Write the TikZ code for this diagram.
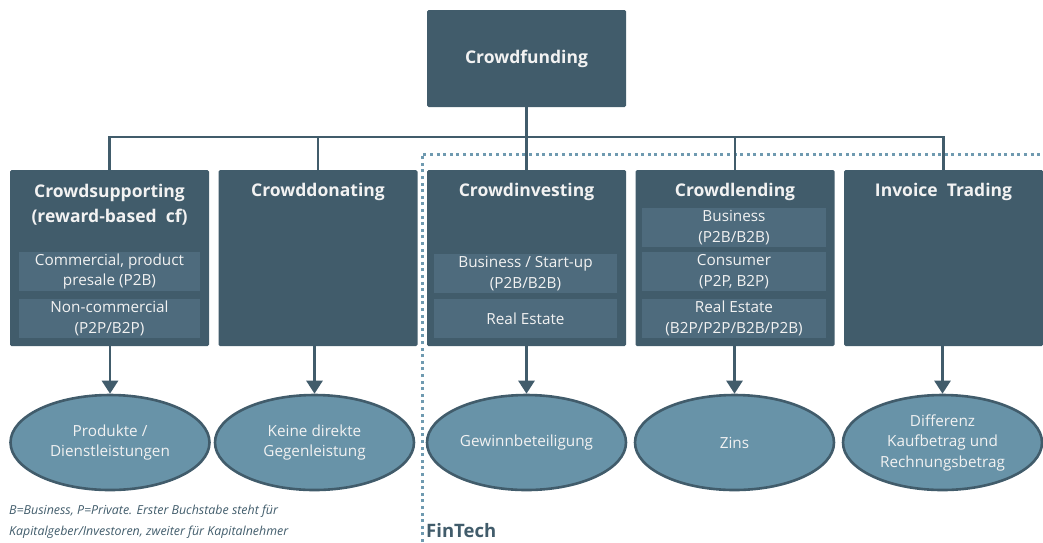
\documentclass[tikz,border=0pt]{standalone}
\usepackage{fontspec}
\setmainfont{Open Sans}
\usetikzlibrary{shapes.geometric,arrows.meta}
\definecolor{dark}{HTML}{415C6B}
\definecolor{subc}{HTML}{4E6B7D}
\definecolor{ellc}{HTML}{6893A8}
\definecolor{dotc}{HTML}{6F9AB0}
\definecolor{txt}{HTML}{F2F2F2}
\tikzset{
  box/.style={fill=dark, rounded corners=1.5pt, minimum width=199pt, minimum height=176pt, inner sep=0pt},
  topbox/.style={fill=dark, rounded corners=1.5pt, minimum width=199pt, minimum height=97pt, inner sep=0pt, text=txt, font=\fontsize{17.5}{20}\selectfont\bfseries},
  ttl/.style={text=txt, align=center, font=\fontsize{17.5}{25}\selectfont\bfseries, inner sep=0pt},
  subbox/.style={fill=subc, minimum height=39pt, inner sep=0pt, text=txt, align=center, font=\fontsize{15.3}{20.5}\selectfont},
  oval/.style={ellipse, fill=ellc, draw=dark, line width=2.6pt, minimum width=199pt, minimum height=95pt, inner sep=0pt, text=txt, align=center, font=\fontsize{15.3}{20.5}\selectfont},
  conn/.style={draw=dark, line width=2.8pt},
  arr/.style={draw=dark, line width=2.6pt, -{Triangle[width=16pt,length=13pt]}},
  fin/.style={draw=dotc, line width=3pt, dash pattern=on 3pt off 3.6pt},
}
\begin{document}
\begin{tikzpicture}[x=1pt,y=-1pt]
\useasboundingbox (0,0) rectangle (1043,542);
% FinTech region
\coordinate (fa) at (422,542);
\coordinate (fb) at (422,154);
\coordinate (fc) at (1043,154);
\draw[fin] (fa) -- (fb) -- (fc);
% top
\node[topbox] (top) at (526.5,58.5) {\raisebox{-3.5pt}{Crowdfunding}};
% boxes
\node[box] (b1) at (109.5,258) {};
\node[box] (b2) at (318,258) {};
\node[box] (b3) at (526.5,258) {};
\node[box] (b4) at (735,258) {};
\node[box] (b5) at (943.5,258) {};
\coordinate (hub) at (526.5,137);
\draw[conn] (top.south) -- (hub);
\draw[conn] (b1.north) |- (hub) -| (b5.north);
\draw[conn] (hub) -- (b3.north);
\draw[conn] (b2.north) -- (b2.north |- hub);
\draw[conn] (b4.north) -- (b4.north |- hub);
% titles
\node[ttl] (t1) at (109.5,204.5) {Crowdsupporting\\(reward-based\ \ cf)};
\node[ttl] (t2) at (318,192) {Crowddonating};
\node[ttl] (t3) at (526.5,192) {Crowdinvesting};
\node[ttl] (t4) at (735,192) {Crowdlending};
\node[ttl] (t5) at (943.5,192) {Invoice\ \ Trading};
% sub boxes
\node[subbox, minimum width=181pt] (s11) at (109.5,271.5) {Commercial, product\\presale (P2B)};
\node[subbox, minimum width=181pt] (s12) at (109.5,318.5) {Non-commercial\\(P2P/B2P)};
\node[subbox, minimum width=183pt] (s31) at (525.5,273.5) {Business / Start-up\\(P2B/B2B)};
\node[subbox, minimum width=183pt] (s32) at (525.5,318.5) {Real Estate};
\node[subbox, minimum width=184pt] (s41) at (734,227.5) {Business\\(P2B/B2B)};
\node[subbox, minimum width=184pt] (s42) at (734,271.5) {Consumer\\(P2P, B2P)};
\node[subbox, minimum width=184pt] (s43) at (734,318.5) {Real Estate\\(B2P/P2P/B2B/P2B)};
% ovals
\node[oval] (e1) at (110,442.5) {Produkte /\\Dienstleistungen};
\node[oval] (e2) at (314.5,442.5) {Keine direkte\\Gegenleistung};
\node[oval] (e3) at (526.5,442.5) {Gewinnbeteiligung};
\node[oval] (e4) at (734.5,442.5) {Zins};
\node[oval] (e5) at (942.5,442.5) {Differenz\\Kaufbetrag und\\Rechnungsbetrag};
% arrows
\draw[arr] (b1.south -| e1.north) -- (e1.north);
\draw[arr] (b2.south -| e2.north) -- (e2.north);
\draw[arr] (b3.south) -- (e3.north);
\draw[arr] (b4.south -| e4.north) -- (e4.north);
\draw[arr] (b5.south -| e5.north) -- (e5.north);
% notes
\node[anchor=west, align=left, text=dark, inner sep=0pt, font=\fontsize{12.4}{21}\selectfont\itshape] (note) at (9,521.5) {B=Business, P=Private. Erster Buchstabe steht für\\Kapitalgeber/Investoren, zweiter für Kapitalnehmer};
\node[anchor=west, text=dark, inner sep=0pt, font=\fontsize{18.5}{20}\selectfont\bfseries] (fintech) at (426,531) {FinTech};
\end{tikzpicture}
\end{document}
